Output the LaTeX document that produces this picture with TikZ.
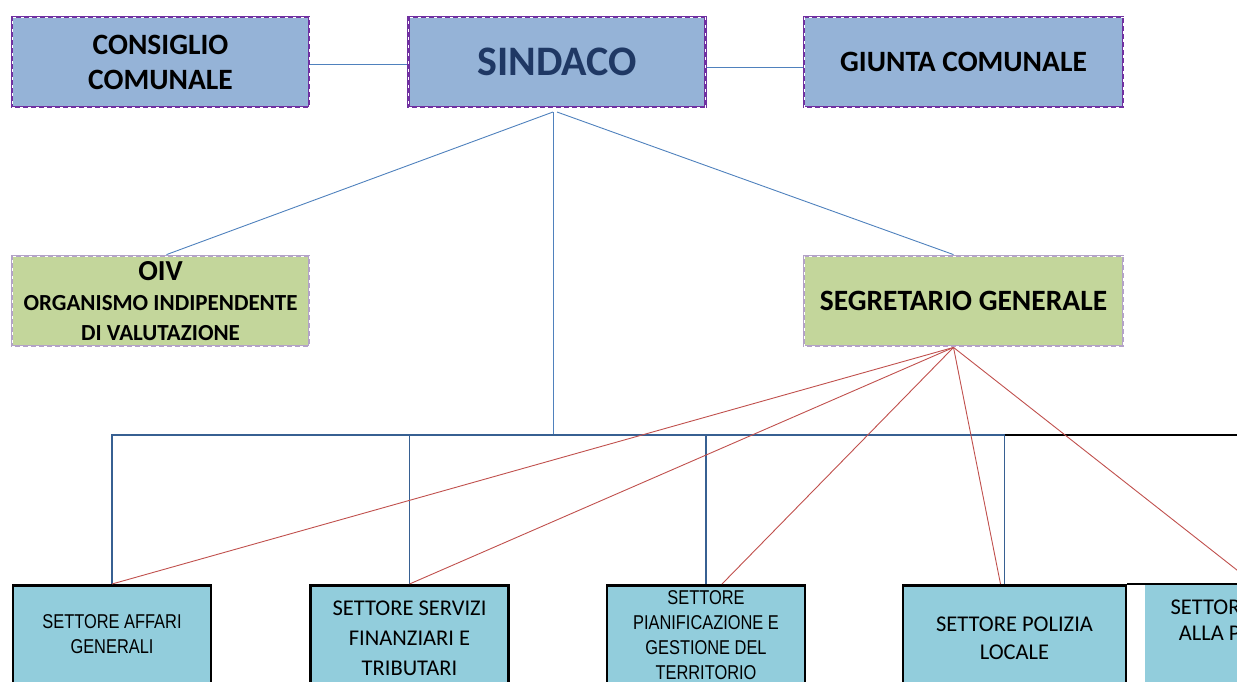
\documentclass[tikz,border=0pt]{standalone}
\usepackage{fontspec}
\setmainfont{Carlito}
\newfontfamily\narrowfont[FakeStretch=0.82]{Liberation Sans}
\definecolor{topfill}{HTML}{95B3D7}
\definecolor{greenfill}{HTML}{C3D69B}
\definecolor{cyanfill}{HTML}{92CDDC}
\definecolor{violet}{HTML}{7030A0}
\definecolor{lavender}{HTML}{B3A2C7}
\definecolor{linkblue}{HTML}{4F81BD}
\definecolor{busblue}{HTML}{376092}
\definecolor{linkred}{HTML}{C0504D}
\definecolor{titleblue}{HTML}{1F3864}
\tikzset{
  organo/.style={draw=violet, line width=2.8pt, fill=topfill, inner sep=0pt,
    minimum width=297pt, minimum height=90pt, align=center,
    postaction={draw=white, line width=0.4pt, dash pattern=on 3pt off 5pt}},
  staff/.style={organo, draw=lavender, fill=greenfill},
  settore/.style={draw=black, line width=2.5pt, fill=cyanfill, inner sep=0pt,
    minimum width=198pt, align=center},
  bluelink/.style={draw=linkblue, line width=0.9pt},
  redlink/.style={draw=linkred, line width=0.9pt},
  bus/.style={draw=busblue, line width=1.8pt}
}
\begin{document}
\begin{tikzpicture}[x=1pt,y=-1pt]
\useasboundingbox (0,0) rectangle (1237,681);
\clip (0,0) rectangle (1237,681);
% organi politici
\node[organo, font=\bfseries\fontsize{29.5}{35}\selectfont] (cons) at (160.5,62) {CONSIGLIO\\COMUNALE};
\node[organo, font=\bfseries\fontsize{42}{46}\selectfont, text=titleblue] (sind) at (557,62) {SINDACO};
\node[organo, minimum width=319pt, font=\bfseries\fontsize{29.5}{34}\selectfont] (giun) at (963.5,62) {GIUNTA COMUNALE};
% staff
\node[staff, font=\bfseries\fontsize{23}{30}\selectfont] (oiv) at (160.5,301) {{\fontsize{29}{30}\selectfont OIV}\\ORGANISMO INDIPENDENTE\\DI VALUTAZIONE};
\node[staff, minimum width=319pt, font=\bfseries\fontsize{29.5}{34}\selectfont] (segr) at (963.5,301) {SEGRETARIO GENERALE};
% settori
\node[settore, anchor=north, minimum height=98pt, font=\narrowfont\fontsize{20}{25}\selectfont] (s1) at (112,584) {SETTORE AFFARI\\GENERALI};
\node[settore, anchor=north, minimum height=106pt, font=\fontsize{22.5}{30}\selectfont] (s2) at (409.5,584) {SETTORE SERVIZI\\FINANZIARI E\\TRIBUTARI};
\node[settore, anchor=north, minimum height=99pt, font=\narrowfont\fontsize{20}{25}\selectfont] (s3) at (706,584) {SETTORE\\PIANIFICAZIONE E\\GESTIONE DEL\\TERRITORIO};
\node[settore, anchor=north, minimum width=223pt, minimum height=106pt, font=\fontsize{22.5}{28}\selectfont] (s4) at (1014.5,584) {SETTORE POLIZIA\\LOCALE};
\node[fill=cyanfill, anchor=north, minimum width=198pt, minimum height=110pt] (s5) at (1244,585) {};
\node[align=center, font=\fontsize{22.5}{26}\selectfont] (t5) at (1247.5,620) {SETTORE SERVIZI\\ALLA PERSONA};
% collegamenti
\coordinate (sbase) at (553,112);
\coordinate (bus) at (553,435);
\coordinate (right) at (1237,435);
\draw[bluelink] ([yshift=-2pt]cons.east) -- ([yshift=-2pt]sind.west);
\draw[bluelink] ([yshift=-5pt]sind.east) -- ([yshift=-5pt]giun.west);
\draw[bluelink] (sbase) -- ([xshift=6pt]oiv.north);
\draw[bluelink] ([xshift=4pt]sbase) -- ([xshift=-10pt]segr.north);
\draw[bluelink] (sbase) -- (bus);
\draw[bus] (s1.north) -- (s1.north |- bus) -- ([xshift=-10pt]s4.north |- bus) -- ([xshift=-10pt]s4.north);
\draw[bus] (s2.north) -- (s2.north |- bus);
\draw[bus] (s3.north) -- (s3.north |- bus);
\draw[line width=1.5pt] ([xshift=-10pt]s4.north |- bus) -- (right);
\draw[line width=1.2pt] (s4.north east) -- (s4.north east -| right);
% linee del segretario
\coordinate (sg) at ([xshift=-10pt]segr.south);
\draw[redlink] (sg) -- (s1.north);
\draw[redlink] (sg) -- (s2.north);
\draw[redlink] (sg) -- ([xshift=16pt]s3.north);
\draw[redlink] (sg) -- ([xshift=-14pt]s4.north);
\draw[redlink] (sg) -- ([xshift=12pt]s5.north);
\end{tikzpicture}
\end{document}
